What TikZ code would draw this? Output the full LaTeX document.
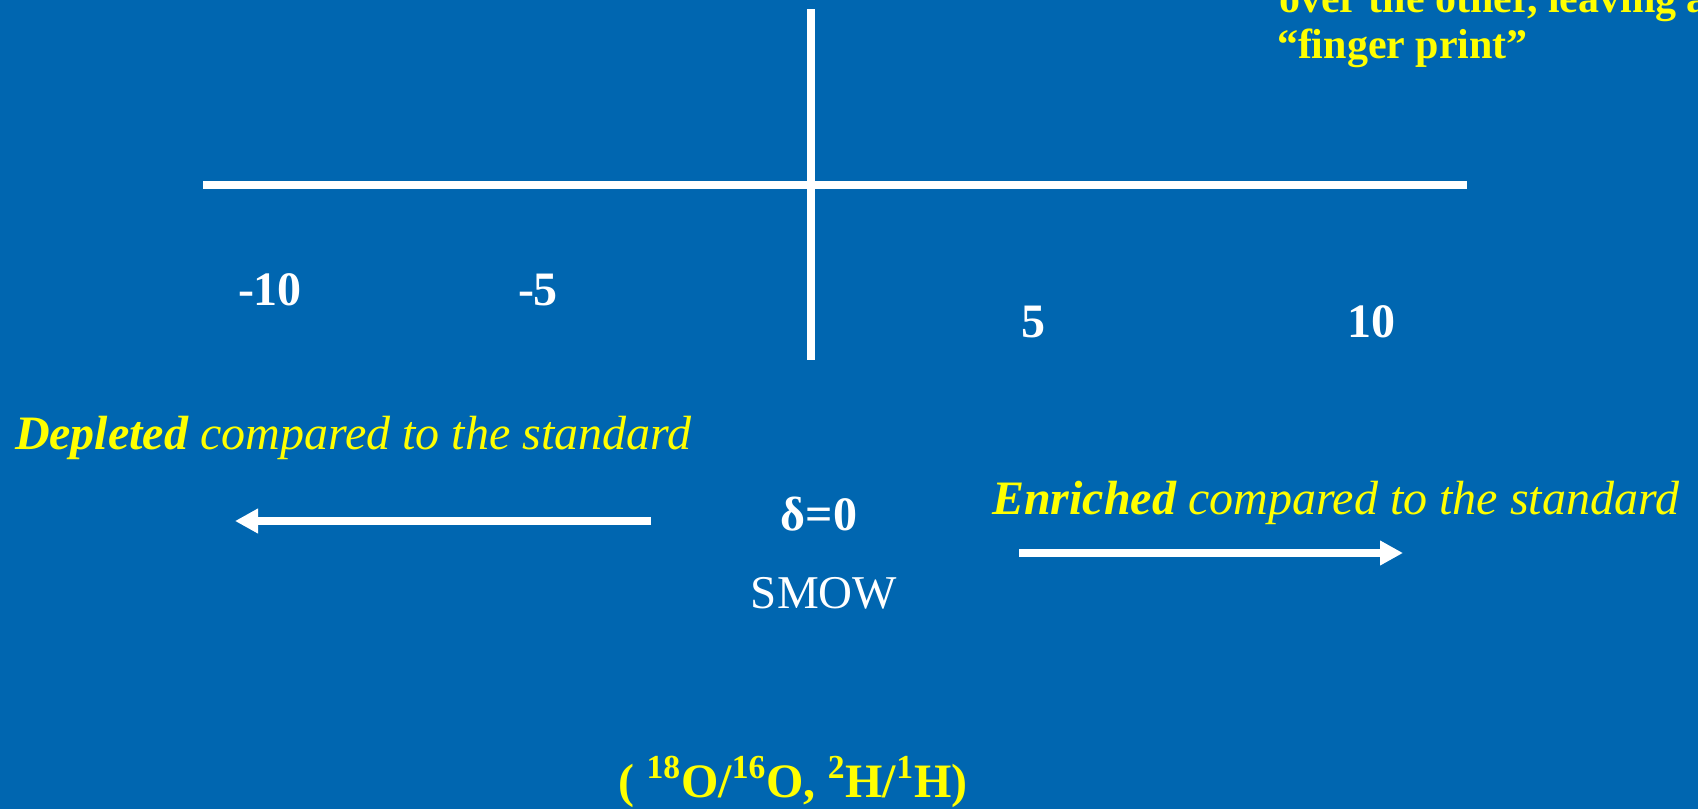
\documentclass[tikz,border=0pt]{standalone}
\usepackage{fontspec}
\setmainfont{Liberation Serif}
\usetikzlibrary{arrows.meta, positioning}
\definecolor{cbg}{HTML}{0066B0}
\definecolor{cyellow}{HTML}{FFFF00}
\tikzset{
  every picture/.style={line width=4pt},
  axis/.style={draw=white, line width=4pt},
  arrow/.style={-{Triangle[length=11.5pt, width=11.7pt]}, draw=white, line width=4pt},
  tick/.style={text=white, font=\fontsize{24}{28}\selectfont\bfseries, anchor=base, inner sep=0pt},
  note/.style={text=cyellow, font=\fontsize{24}{28}\selectfont\itshape, anchor=base west, inner sep=0pt},
  head/.style={text=cyellow, font=\fontsize{21}{23}\selectfont\bfseries, anchor=base west, inner sep=0pt},
}

\begin{document}
\begin{tikzpicture}[x=0.5pt, y=-0.5pt]
  \useasboundingbox (0,0) rectangle (1698,809);
  \clip (0,0) rectangle (1698,809);
  \fill[cbg] (0,0) rectangle (1698,809);
  % axes
  \coordinate (west) at (203,185);
  \coordinate (east) at (1467,185);
  \coordinate (north) at (811,9);
  \coordinate (south) at (811,360);
  \draw[axis] (west) -- (east);
  \draw[axis] (north) -- (south);
  % delta values
  \node[tick] (m10) at (270,305) {-10};
  \node[tick] (m5) at (538,305) {-5};
  \node[tick] (p5) at (1033,337) {5};
  \node[tick] (p10) at (1371,337) {10};
  % standard
  \node[tick] (delta) at (819,530) {δ=0};
  \node[tick, font=\fontsize{23.5}{28}\selectfont] (smow) at (824,608) {SMOW};
  % depleted / enriched
  \node[note] (depleted) at (11,449) {\textbf{Depleted} compared to the standard};
  \node[note] (enriched) at (988,514) {\textbf{Enriched} compared to the standard};
  \coordinate (dstart) at (651,521);
  \coordinate (dend) at (235,521);
  \coordinate (estart) at (1019,553);
  \coordinate (eend) at (1403,553);
  \draw[arrow] (dstart) -- (dend);
  \draw[arrow] (estart) -- (eend);
  % ratios
  \node[tick, text=cyellow] (ratio) at (793,797)
    {( \textsuperscript{18}O/\textsuperscript{16}O, \textsuperscript{2}H/\textsuperscript{1}H)};
  % cut-off note, top right
  \node[head] (over) at (1275,12) {over the other, leaving a};
  \node[head] (finger) at (1273,58) {“finger print”};
\end{tikzpicture}
\end{document}
